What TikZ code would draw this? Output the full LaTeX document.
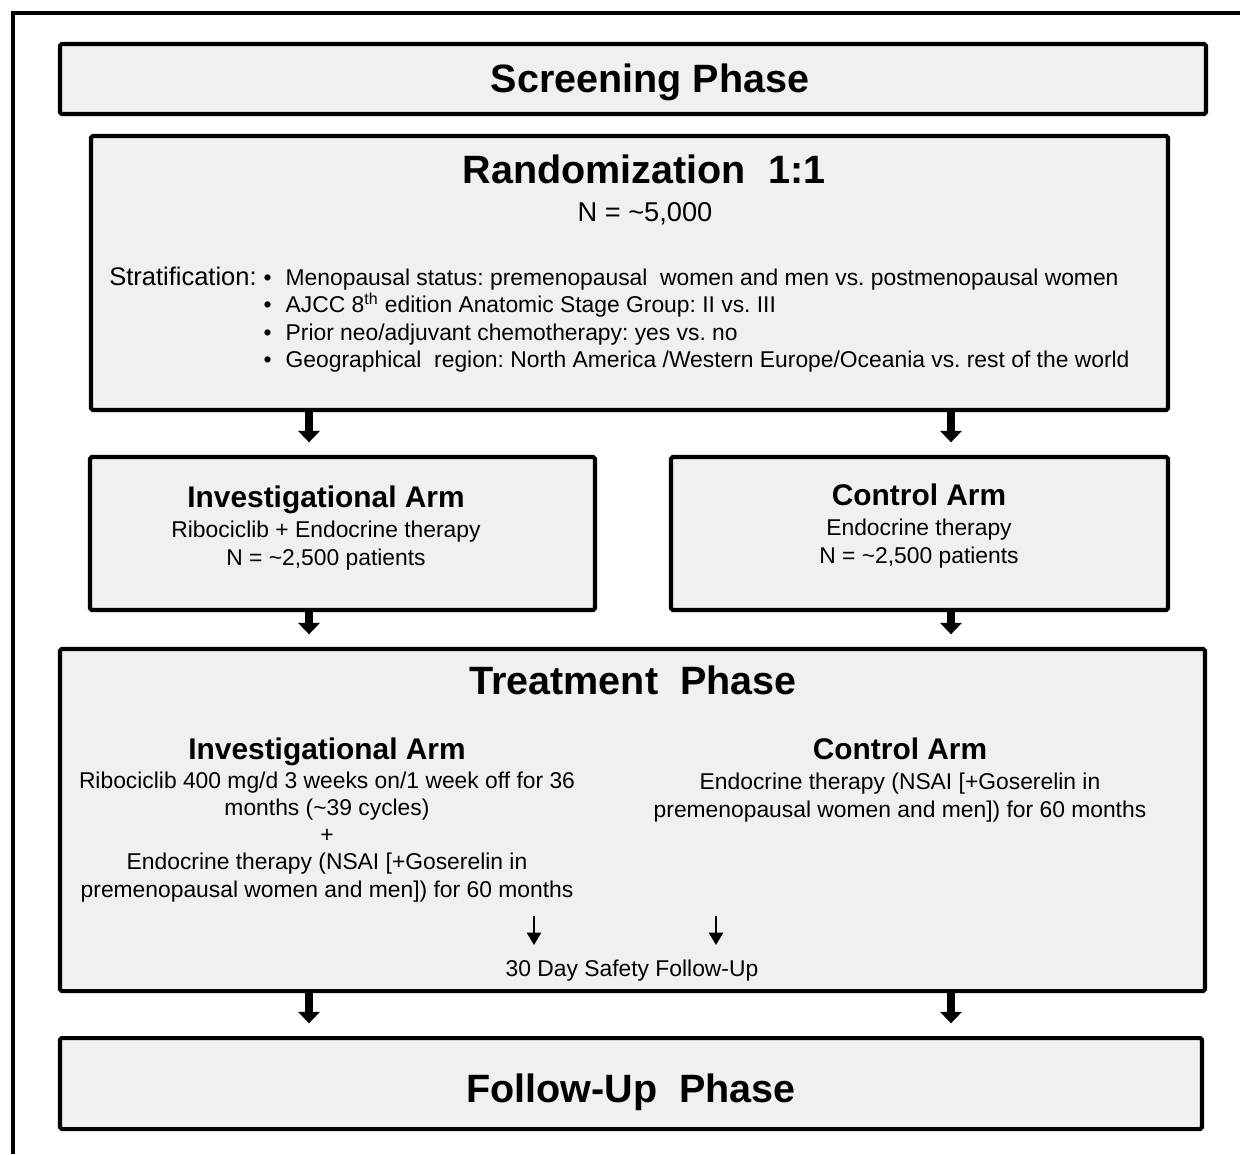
\documentclass[tikz,border=0pt]{standalone}
\usepackage{fontspec}
\setmainfont{Liberation Sans}
\usepackage{tikz}
\usepackage{xcolor}
\usetikzlibrary{positioning,arrows.meta,fit,calc}
\definecolor{boxfill}{HTML}{F0F0F0}

\begin{document}
\frenchspacing
\begin{tikzpicture}[x=0.02cm,y=-0.02cm,
    phasebox/.style={draw,line width=2.3pt,fill=boxfill,inner sep=0pt,rounded corners=1pt},
    bigtitle/.style={font=\fontsize{22.5}{26}\selectfont\bfseries,anchor=base,inner sep=0pt},
    armtitle/.style={font=\fontsize{17}{20}\selectfont\bfseries,anchor=base,inner sep=0pt},
    bodytext/.style={font=\fontsize{13}{15.4}\selectfont,align=center,anchor=base,inner sep=0pt},
    bigarrow/.style={line width=4.5pt,-{Triangle[width=12pt,length=6.5pt]},shorten >=7.2pt},
    smallarrow/.style={line width=1.1pt,-{Triangle[width=8pt,length=7pt]}}]
  \useasboundingbox (0,0) rectangle (1240,1154);
  % ---------------- outer frame ----------------
  \draw[line width=2.3pt] (13,1154) -- (13,13) -- (1240,13);

  % ---------------- boxes ----------------
  \node[phasebox,fit={(60,44) (1206,114)}] (screening) {};
  \node[phasebox,fit={(91,136) (1168,410)}] (random) {};
  \node[phasebox,fit={(90,457) (595,610)}] (invArm) {};
  \node[phasebox,fit={(671,457) (1168,610)}] (ctrlArm) {};
  \node[phasebox,fit={(60,649) (1205,991)}] (treat) {};
  \node[phasebox,fit={(60,1038) (1202,1129)}] (followup) {};

  % ---------------- screening / randomization ----------------
  \node[bigtitle] (screenTitle) at (650,92) {Screening Phase};
  \node[bigtitle] (randTitle) at (644,183) {Randomization\ \ 1:1};
  \node[bodytext,font=\fontsize{15.5}{18}\selectfont] (randN) at (645,221) {N = \textasciitilde5,000};
  \node[anchor=base west,inner sep=0pt,font=\fontsize{13}{15.7}\selectfont] (strat) at (109,285)
    {\begin{tabular}[t]{@{}l@{\hspace{4pt}}l@{\hspace{8pt}}l@{}}
     {\fontsize{14.5}{15.7}\selectfont Stratification:} & \textbullet & Menopausal status: premenopausal\ \ women and men vs. postmenopausal women\\
      & \textbullet & AJCC 8\textsuperscript{th} edition Anatomic Stage Group: II vs. III\\
      & \textbullet & Prior neo/adjuvant chemotherapy: yes vs. no\\
      & \textbullet & Geographical\ \ region: North America /Western Europe/Oceania vs. rest of the world
     \end{tabular}};

  % ---------------- arms ----------------
  \node[armtitle] (invTitle) at (326,507) {Investigational Arm};
  \node[bodytext] (invText) at (326,565) {Ribociclib + Endocrine therapy\\N = \textasciitilde2,500 patients};
  \node[armtitle] (ctrlTitle) at (919,505) {Control Arm};
  \node[bodytext] (ctrlText) at (919,563) {Endocrine therapy\\N = \textasciitilde2,500 patients};

  % ---------------- treatment phase ----------------
  \node[bigtitle] (treatTitle) at (633,694) {Treatment\ \ Phase};
  \node[armtitle] (tInvTitle) at (327,759) {Investigational Arm};
  \node[bodytext] (tInvText) at (327,897)
    {Ribociclib 400 mg/d 3 weeks on/1 week off for 36\\
     months (\textasciitilde39 cycles)\\
     +\\
     Endocrine therapy (NSAI [+Goserelin in\\
     premenopausal women and men]) for 60 months};
  \node[armtitle] (tCtrlTitle) at (900,759) {Control Arm};
  \node[bodytext] (tCtrlText) at (900,817)
    {Endocrine therapy (NSAI [+Goserelin in\\
     premenopausal women and men]) for 60 months};
  \node[bodytext] (safety) at (632,976) {30 Day Safety Follow-Up};
  \coordinate (safeA) at (534,916);
  \coordinate (safeB) at (716,916);
  \draw[smallarrow] (safeA) -- ++(0,29);
  \draw[smallarrow] (safeB) -- ++(0,29);

  % ---------------- follow-up ----------------
  \node[bigtitle] (fuTitle) at (631,1102) {Follow-Up\ \ Phase};

  % ---------------- connectors ----------------
  \coordinate (colL) at (309,0);
  \coordinate (colR) at (951,0);
  \draw[bigarrow] (random.south -| colL) -- (invArm.north -| colL);
  \draw[bigarrow] (random.south -| colR) -- (ctrlArm.north -| colR);
  \draw[bigarrow] (invArm.south -| colL) -- (treat.north -| colL);
  \draw[bigarrow] (ctrlArm.south -| colR) -- (treat.north -| colR);
  \draw[bigarrow] (treat.south -| colL) -- (followup.north -| colL);
  \draw[bigarrow] (treat.south -| colR) -- (followup.north -| colR);
\end{tikzpicture}
\end{document}
